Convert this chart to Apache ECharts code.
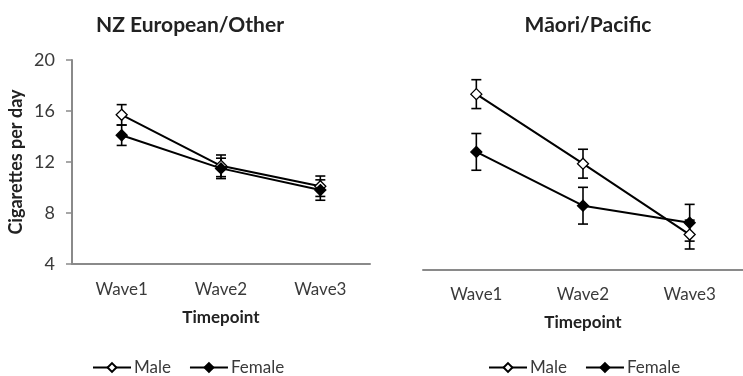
<!DOCTYPE html>
<html>
<head>
<meta charset="utf-8">
<script src="https://cdn.jsdelivr.net/npm/echarts@6/dist/echarts.min.js"></script>
<style>
html,body{margin:0;padding:0;background:#fff;}
#c{width:743px;height:376px;}
</style>
</head>
<body>
<div id="c"></div>
<script>
const categories = ['Wave1', 'Wave2', 'Wave3'];
const yTicks = [4, 8, 12, 16, 20];

const nzMale = [15.7, 11.7, 10.1];
const nzMaleErr = [0.8, 0.85, 0.8];
const nzFemale = [14.1, 11.5, 9.8];
const nzFemaleErr = [0.8, 0.8, 0.8];

const mpMale = [17.4, 12.1, 6.7];
const mpMaleErr = [1.1, 1.1, 1.1];
const mpFemale = [13.0, 8.9, 7.6];
const mpFemaleErr = [1.4, 1.4, 1.4];

const FONT = 'Lato';
const TXT = '#3a3a3a';

function errSeries(name, idx, vals, errs) {
  return {
    name: name, type: 'custom', xAxisIndex: idx, yAxisIndex: idx, z: 1,
    silent: true,
    data: vals.map((v, i) => [i, v - errs[i], v + errs[i]]),
    renderItem: function (params, api) {
      const lo = api.coord([api.value(0), api.value(1)]);
      const hi = api.coord([api.value(0), api.value(2)]);
      const w = 5;
      const st = { stroke: '#000', lineWidth: 1.6 };
      return {
        type: 'group',
        children: [
          { type: 'line', shape: { x1: lo[0], y1: lo[1], x2: hi[0], y2: hi[1] }, style: st },
          { type: 'line', shape: { x1: lo[0] - w, y1: lo[1], x2: lo[0] + w, y2: lo[1] }, style: st },
          { type: 'line', shape: { x1: hi[0] - w, y1: hi[1], x2: hi[0] + w, y2: hi[1] }, style: st }
        ]
      };
    }
  };
}

function lineSeries(name, idx, vals, fill) {
  return {
    name: name, type: 'line', xAxisIndex: idx, yAxisIndex: idx, z: 5,
    data: vals, symbol: 'diamond', symbolSize: 11, showSymbol: true,
    lineStyle: { color: '#000', width: 2 },
    itemStyle: { color: fill, borderColor: '#000', borderWidth: 1.3 },
    emphasis: { disabled: true }
  };
}

const xAxisBase = {
  type: 'category', data: categories, boundaryGap: true,
  axisLine: { lineStyle: { color: '#8a8a8a', width: 2 } },
  axisTick: { show: false },
  axisLabel: { color: TXT, fontSize: 17, fontFamily: FONT, margin: 17 },
  name: 'Timepoint', nameLocation: 'middle', nameGap: 45,
  nameTextStyle: { color: '#222', fontSize: 17, fontWeight: 'bold', fontFamily: FONT }
};

const legendBase = {
  data: ['Male', 'Female'], top: 359, padding: 0, itemWidth: 38, itemHeight: 11, itemGap: 18,
  textStyle: { color: TXT, fontSize: 17, fontFamily: FONT, padding: [0, 0, 0, -2] },
  selectedMode: false
};

const option = {
  backgroundColor: '#fff',
  animation: false,
  title: [
    { text: 'NZ European/Other', left: 185, top: 10, textAlign: 'center',
      textStyle: { color: '#222', fontSize: 21, fontWeight: 'bold', fontFamily: FONT } },
    { text: 'Māori/Pacific', left: 583, top: 10, textAlign: 'center',
      textStyle: { color: '#222', fontSize: 21, fontWeight: 'bold', fontFamily: FONT } }
  ],
  legend: [
    Object.assign({ left: 92 }, legendBase),
    Object.assign({ left: 488 }, legendBase)
  ],
  grid: [
    { left: 72, width: 298, top: 60, height: 204 },
    { left: 423, width: 324, top: 60, height: 210 }
  ],
  xAxis: [
    Object.assign({ gridIndex: 0 }, xAxisBase),
    Object.assign({ gridIndex: 1 }, xAxisBase, { nameGap: 44, axisLabel: Object.assign({}, xAxisBase.axisLabel, { margin: 16 }) })
  ],
  yAxis: [
    { gridIndex: 0, type: 'value', min: yTicks[0], max: yTicks[yTicks.length - 1], interval: 4,
      axisLine: { show: true, lineStyle: { color: '#8a8a8a', width: 2 } },
      axisTick: { show: true, length: 6, lineStyle: { color: '#8a8a8a', width: 1.5 } },
      splitLine: { show: false },
      axisLabel: { color: TXT, fontSize: 18, fontFamily: FONT, margin: 17 },
      name: 'Cigarettes per day', nameLocation: 'middle', nameGap: 47, nameRotate: 90,
      nameTextStyle: { color: '#222', fontSize: 18, fontWeight: 'bold', fontFamily: FONT } },
    { gridIndex: 1, type: 'value', min: yTicks[0], max: yTicks[yTicks.length - 1], interval: 4,
      show: true, axisLine: { show: false }, axisTick: { show: false },
      axisLabel: { show: false }, splitLine: { show: false } }
  ],
  series: [
    errSeries('Male err NZ', 0, nzMale, nzMaleErr),
    errSeries('Female err NZ', 0, nzFemale, nzFemaleErr),
    errSeries('Male err MP', 1, mpMale, mpMaleErr),
    errSeries('Female err MP', 1, mpFemale, mpFemaleErr),
    lineSeries('Male', 0, nzMale, '#fff'),
    lineSeries('Female', 0, nzFemale, '#000'),
    lineSeries('Male', 1, mpMale, '#fff'),
    lineSeries('Female', 1, mpFemale, '#000')
  ]
};

echarts.init(document.getElementById('c'), null, { renderer: 'canvas' }).setOption(option);
</script>
</body>
</html>
